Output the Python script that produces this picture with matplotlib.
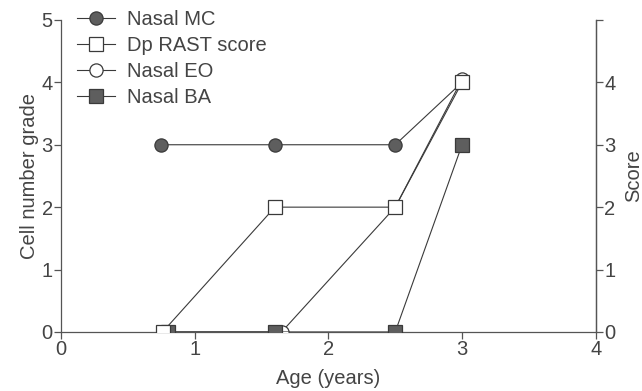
import matplotlib.pyplot as plt

plt.rcParams['font.family'] = ['Liberation Sans', 'DejaVu Sans']

# Age (years) and grades for each series
mc_age = [0.75, 1.6, 2.5, 3.0]
mc_grade = [3, 3, 3, 4]
rast_age = [0.76, 1.6, 2.5, 3.0]
rast_score = [0, 2, 2, 4]
eo_age = [0.8, 1.65, 2.5, 3.0]
eo_grade = [0, 0, 2, 4.05]
ba_age = [0.8, 1.6, 2.5, 3.0]
ba_grade = [0, 0, 0, 3]

x_ticks = [0, 1, 2, 3, 4]
y_ticks = [0, 1, 2, 3, 4, 5]
score_ticks = [0, 1, 2, 3, 4, 5]
score_labels = ['0', '1', '2', '3', '4', '']

ink = '#3a3a3a'
fill = '#5e5e5e'
txt = '#444444'
fs = 14.5

fig = plt.figure(figsize=(6.42, 3.91), dpi=100)
ax = fig.add_axes([0.095, 0.151, 0.833, 0.798])

common = dict(color=ink, lw=0.8, ms=9.5, mew=0.9, mec=ink)
ax.plot(mc_age, mc_grade, marker='o', mfc=fill, label='Nasal MC', zorder=3, **common)
ax.plot(eo_age, eo_grade, marker='o', mfc='white', label='Nasal EO', zorder=4, **common)
ax.plot(ba_age, ba_grade, marker='s', mfc=fill, label='Nasal BA', zorder=5, **common)
ax.plot(rast_age, rast_score, marker='s', mfc='white', label='Dp RAST score', zorder=6, **common)

ax.set_xlim(0, 4)
ax.set_ylim(0, 5)
ax.set_xticks(x_ticks)
ax.set_yticks(y_ticks)
ax.spines['top'].set_visible(False)
for s in ['left', 'bottom', 'right']:
    ax.spines[s].set_color('#555555')
    ax.spines[s].set_linewidth(0.9)
ax.tick_params(colors='#555555', labelcolor=txt, labelsize=fs, length=5, width=0.9, pad=1)
ax.set_xlabel('Age (years)', fontsize=fs, color=txt, labelpad=7)
ax.set_ylabel('Cell number grade', fontsize=fs, color=txt, labelpad=2)

ax2 = ax.twinx()
ax2.set_ylim(0, 5)
ax2.set_yticks(score_ticks)
ax2.set_yticklabels(score_labels)
for s in ['top', 'left', 'bottom']:
    ax2.spines[s].set_visible(False)
ax2.spines['right'].set_color('#555555')
ax2.spines['right'].set_linewidth(0.9)
ax2.tick_params(colors='#555555', labelcolor=txt, labelsize=fs, length=5, width=0.9, pad=1)
ax2.set_ylabel('Score', fontsize=fs, color=txt, labelpad=6)

handles, labels = ax.get_legend_handles_labels()
order = [0, 3, 1, 2]
ax.legend([handles[i] for i in order], [labels[i] for i in order],
          loc='upper left', bbox_to_anchor=(0.015, 1.058), frameon=False,
          fontsize=fs, labelcolor=txt, handlelength=1.9, handletextpad=0.6,
          labelspacing=0.35, borderaxespad=0)

fig.savefig('out.png', dpi=100)
